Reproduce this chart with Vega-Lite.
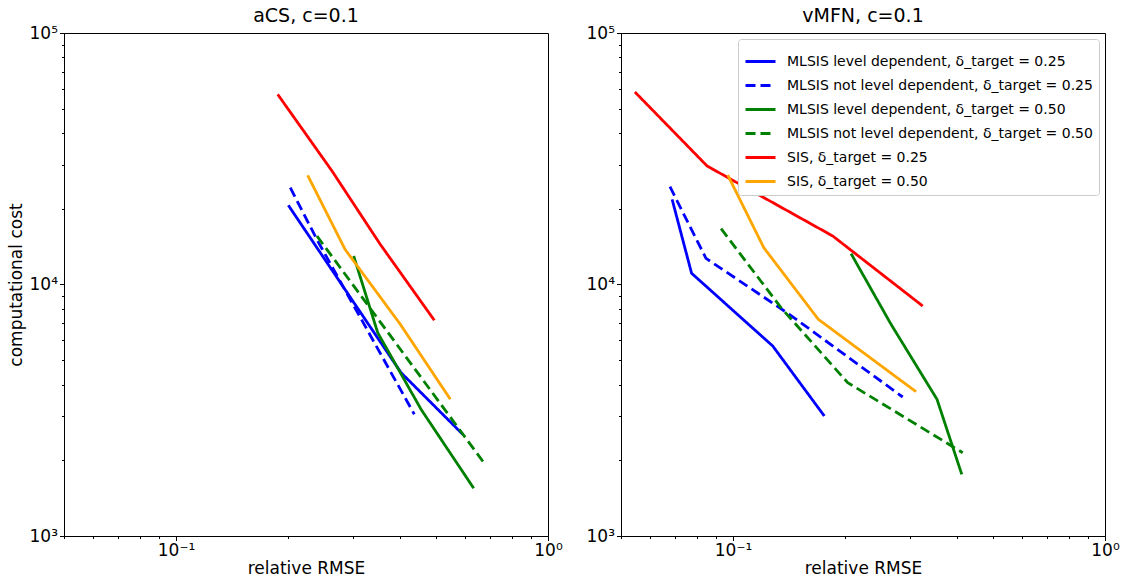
{
  "$schema": "https://vega.github.io/schema/vega-lite/v6.json",
  "padding": {"left": 6, "top": 6, "right": 5, "bottom": 0},
  "bounds": "flush",
  "spacing": 73,
  "background": "white",
  "config": {
    "font": "DejaVu Sans",
    "view": {"stroke": "black", "strokeWidth": 1},
    "axis": {"grid": false, "domainColor": "black", "tickColor": "black", "labelColor": "black", "titleColor": "black", "labelFontSize": 17, "titleFontSize": 17, "titleFontWeight": "normal", "labelFont": "DejaVu Sans", "titleFont": "DejaVu Sans", "labelFlush": false, "labelOverlap": false, "labelPadding": 2},
    "title": {"fontSize": 19, "fontWeight": "normal", "font": "DejaVu Sans", "color": "black", "frame": "group", "offset": -2, "anchor": "middle"},
    "legend": {"orient": "top-right", "offset": 6, "symbolType": "stroke", "symbolSize": 900, "symbolStrokeWidth": 3, "labelFontSize": 14, "labelFont": "DejaVu Sans", "labelColor": "black", "labelLimit": 0, "fillColor": "white", "strokeColor": "#cccccc", "cornerRadius": 3, "padding": 6, "rowPadding": 0, "labelOffset": 10},
    "line": {"strokeWidth": 2.8}
  },
  "data": {"values": [
    {"panel": "aCS", "series": "MLSIS level dependent, δ_target = 0.25", "x": 0.2005, "y": 20650},
    {"panel": "aCS", "series": "MLSIS level dependent, δ_target = 0.25", "x": 0.4027, "y": 4460},
    {"panel": "aCS", "series": "MLSIS level dependent, δ_target = 0.25", "x": 0.5899, "y": 2537},
    {"panel": "aCS", "series": "MLSIS not level dependent, δ_target = 0.25", "x": 0.2029, "y": 24260},
    {"panel": "aCS", "series": "MLSIS not level dependent, δ_target = 0.25", "x": 0.2404, "y": 14890},
    {"panel": "aCS", "series": "MLSIS not level dependent, δ_target = 0.25", "x": 0.4371, "y": 3047},
    {"panel": "aCS", "series": "MLSIS level dependent, δ_target = 0.50", "x": 0.3004, "y": 12980},
    {"panel": "aCS", "series": "MLSIS level dependent, δ_target = 0.50", "x": 0.3485, "y": 6435},
    {"panel": "aCS", "series": "MLSIS level dependent, δ_target = 0.50", "x": 0.4557, "y": 3190},
    {"panel": "aCS", "series": "MLSIS level dependent, δ_target = 0.50", "x": 0.6314, "y": 1548},
    {"panel": "aCS", "series": "MLSIS not level dependent, δ_target = 0.50", "x": 0.2393, "y": 15590},
    {"panel": "aCS", "series": "MLSIS not level dependent, δ_target = 0.50", "x": 0.6772, "y": 1928},
    {"panel": "aCS", "series": "SIS, δ_target = 0.25", "x": 0.1877, "y": 57000},
    {"panel": "aCS", "series": "SIS, δ_target = 0.25", "x": 0.2627, "y": 28260},
    {"panel": "aCS", "series": "SIS, δ_target = 0.25", "x": 0.354, "y": 14450},
    {"panel": "aCS", "series": "SIS, δ_target = 0.25", "x": 0.4948, "y": 7205},
    {"panel": "aCS", "series": "SIS, δ_target = 0.50", "x": 0.2259, "y": 27180},
    {"panel": "aCS", "series": "SIS, δ_target = 0.50", "x": 0.2847, "y": 13800},
    {"panel": "aCS", "series": "SIS, δ_target = 0.50", "x": 0.4009, "y": 6945},
    {"panel": "aCS", "series": "SIS, δ_target = 0.50", "x": 0.5464, "y": 3496},
    {"panel": "vMFN", "series": "MLSIS level dependent, δ_target = 0.25", "x": 0.0686, "y": 21810},
    {"panel": "vMFN", "series": "MLSIS level dependent, δ_target = 0.25", "x": 0.0774, "y": 11080},
    {"panel": "vMFN", "series": "MLSIS level dependent, δ_target = 0.25", "x": 0.1279, "y": 5693},
    {"panel": "vMFN", "series": "MLSIS level dependent, δ_target = 0.25", "x": 0.176, "y": 3000},
    {"panel": "vMFN", "series": "MLSIS not level dependent, δ_target = 0.25", "x": 0.0677, "y": 24480},
    {"panel": "vMFN", "series": "MLSIS not level dependent, δ_target = 0.25", "x": 0.0846, "y": 12710},
    {"panel": "vMFN", "series": "MLSIS not level dependent, δ_target = 0.25", "x": 0.1417, "y": 7612},
    {"panel": "vMFN", "series": "MLSIS not level dependent, δ_target = 0.25", "x": 0.2859, "y": 3570},
    {"panel": "vMFN", "series": "MLSIS level dependent, δ_target = 0.50", "x": 0.2077, "y": 13260},
    {"panel": "vMFN", "series": "MLSIS level dependent, δ_target = 0.50", "x": 0.266, "y": 6945},
    {"panel": "vMFN", "series": "MLSIS level dependent, δ_target = 0.50", "x": 0.3535, "y": 3496},
    {"panel": "vMFN", "series": "MLSIS level dependent, δ_target = 0.50", "x": 0.412, "y": 1759},
    {"panel": "vMFN", "series": "MLSIS not level dependent, δ_target = 0.50", "x": 0.0929, "y": 16670},
    {"panel": "vMFN", "series": "MLSIS not level dependent, δ_target = 0.50", "x": 0.1346, "y": 8088},
    {"panel": "vMFN", "series": "MLSIS not level dependent, δ_target = 0.50", "x": 0.2034, "y": 4071},
    {"panel": "vMFN", "series": "MLSIS not level dependent, δ_target = 0.50", "x": 0.4145, "y": 2144},
    {"panel": "vMFN", "series": "SIS, δ_target = 0.25", "x": 0.0545, "y": 58250},
    {"panel": "vMFN", "series": "SIS, δ_target = 0.25", "x": 0.0852, "y": 29590},
    {"panel": "vMFN", "series": "SIS, δ_target = 0.25", "x": 0.1854, "y": 15590},
    {"panel": "vMFN", "series": "SIS, δ_target = 0.25", "x": 0.3236, "y": 8213},
    {"panel": "vMFN", "series": "SIS, δ_target = 0.50", "x": 0.0968, "y": 27250},
    {"panel": "vMFN", "series": "SIS, δ_target = 0.50", "x": 0.121, "y": 14010},
    {"panel": "vMFN", "series": "SIS, δ_target = 0.50", "x": 0.1696, "y": 7270},
    {"panel": "vMFN", "series": "SIS, δ_target = 0.50", "x": 0.3105, "y": 3748}
  ]},
  "hconcat": [
    {
      "width": 484,
      "height": 503,
      "title": "aCS, c=0.1",
      "transform": [{"filter": "datum.panel == 'aCS'"}],
      "mark": {"type": "line", "strokeWidth": 2.8},
      "encoding": {
        "x": {"field": "x", "type": "quantitative", "title": "relative RMSE",
              "scale": {"type": "log", "domain": [0.05, 1], "nice": false},
              "axis": {"values": [0.05, 0.06, 0.07, 0.08, 0.09, 0.1, 0.2, 0.3, 0.4, 0.5, 0.6, 0.7, 0.8, 0.9, 1],
                       "labelExpr": "datum.value == 0.1 ? '10⁻¹' : datum.value == 1 ? '10⁰' : ''",
                       "tickSize": {"condition": {"test": "datum.value == 0.1 || datum.value == 1", "value": 4.5}, "value": 2.5},
                       "titlePadding": 2}},
        "y": {"field": "y", "type": "quantitative", "title": "computational cost",
              "scale": {"type": "log", "domain": [1000, 100000], "nice": false},
              "axis": {"values": [1000, 2000, 3000, 4000, 5000, 6000, 7000, 8000, 9000, 10000, 20000, 30000, 40000, 50000, 60000, 70000, 80000, 90000, 100000],
                       "labelExpr": "datum.value == 1000 ? '10³' : datum.value == 10000 ? '10⁴' : datum.value == 100000 ? '10⁵' : ''",
                       "tickSize": {"condition": {"test": "datum.value == 1000 || datum.value == 10000 || datum.value == 100000", "value": 4.5}, "value": 2.5},
                       "titlePadding": 4}},
        "color": {"field": "series", "type": "nominal",
                  "scale": {"domain": ["MLSIS level dependent, δ_target = 0.25", "MLSIS not level dependent, δ_target = 0.25", "MLSIS level dependent, δ_target = 0.50", "MLSIS not level dependent, δ_target = 0.50", "SIS, δ_target = 0.25", "SIS, δ_target = 0.50"],
                            "range": ["#0000ff", "#0000ff", "#008000", "#008000", "#ff0000", "#ffa500"]},
                  "legend": null},
        "strokeDash": {"field": "series", "type": "nominal",
                  "scale": {"domain": ["MLSIS level dependent, δ_target = 0.25", "MLSIS not level dependent, δ_target = 0.25", "MLSIS level dependent, δ_target = 0.50", "MLSIS not level dependent, δ_target = 0.50", "SIS, δ_target = 0.25", "SIS, δ_target = 0.50"],
                            "range": [[1, 0], [10, 5], [1, 0], [10, 5], [1, 0], [1, 0]]},
                  "legend": null}
      }
    },
    {
      "width": 484,
      "height": 503,
      "title": "vMFN, c=0.1",
      "transform": [{"filter": "datum.panel == 'vMFN'"}],
      "mark": {"type": "line", "strokeWidth": 2.8},
      "encoding": {
        "x": {"field": "x", "type": "quantitative", "title": "relative RMSE",
              "scale": {"type": "log", "domain": [0.05, 1], "nice": false},
              "axis": {"values": [0.05, 0.06, 0.07, 0.08, 0.09, 0.1, 0.2, 0.3, 0.4, 0.5, 0.6, 0.7, 0.8, 0.9, 1],
                       "labelExpr": "datum.value == 0.1 ? '10⁻¹' : datum.value == 1 ? '10⁰' : ''",
                       "tickSize": {"condition": {"test": "datum.value == 0.1 || datum.value == 1", "value": 4.5}, "value": 2.5},
                       "titlePadding": 2}},
        "y": {"field": "y", "type": "quantitative", "title": null,
              "scale": {"type": "log", "domain": [1000, 100000], "nice": false},
              "axis": {"values": [1000, 2000, 3000, 4000, 5000, 6000, 7000, 8000, 9000, 10000, 20000, 30000, 40000, 50000, 60000, 70000, 80000, 90000, 100000],
                       "labelExpr": "datum.value == 1000 ? '10³' : datum.value == 10000 ? '10⁴' : datum.value == 100000 ? '10⁵' : ''",
                       "tickSize": {"condition": {"test": "datum.value == 1000 || datum.value == 10000 || datum.value == 100000", "value": 4.5}, "value": 2.5}}},
        "color": {"field": "series", "type": "nominal",
                  "scale": {"domain": ["MLSIS level dependent, δ_target = 0.25", "MLSIS not level dependent, δ_target = 0.25", "MLSIS level dependent, δ_target = 0.50", "MLSIS not level dependent, δ_target = 0.50", "SIS, δ_target = 0.25", "SIS, δ_target = 0.50"],
                            "range": ["#0000ff", "#0000ff", "#008000", "#008000", "#ff0000", "#ffa500"]},
                  "legend": {"title": null}},
        "strokeDash": {"field": "series", "type": "nominal",
                  "scale": {"domain": ["MLSIS level dependent, δ_target = 0.25", "MLSIS not level dependent, δ_target = 0.25", "MLSIS level dependent, δ_target = 0.50", "MLSIS not level dependent, δ_target = 0.50", "SIS, δ_target = 0.25", "SIS, δ_target = 0.50"],
                            "range": [[1, 0], [10, 5], [1, 0], [10, 5], [1, 0], [1, 0]]},
                  "legend": {"title": null}}
      }
    }
  ],
  "resolve": {"scale": {"color": "independent", "strokeDash": "independent"}, "legend": {"color": "independent", "strokeDash": "independent"}}
}
